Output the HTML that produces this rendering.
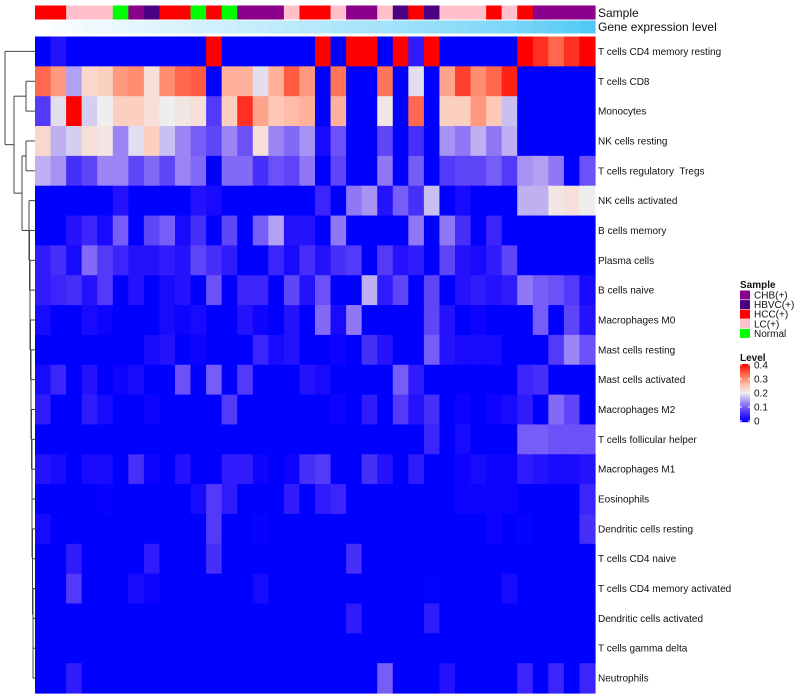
<!DOCTYPE html>
<html><head><meta charset="utf-8">
<style>
body{margin:0;background:#fff;}
svg{display:block;font-family:"Liberation Sans",sans-serif;}
#labels text{white-space:pre;}
</style></head>
<body>
<svg id="chart" width="800" height="700" viewBox="0 0 800 700" xmlns="http://www.w3.org/2000/svg">
<g id="dendro" stroke="#444" stroke-width="1" fill="none"></g>
<g id="annot"></g>
<g id="cells"></g>
<g id="labels" font-size="10" fill="#111"></g>
<text x="598" y="17" font-size="12" fill="#111">Sample</text>
<text x="598" y="31" font-size="12" fill="#111">Gene expression level</text>
<g id="legend"></g>
</svg>
<script>
const rowNames = ["T cells CD4 memory resting","T cells CD8","Monocytes","NK cells resting","T cells regulatory  Tregs","NK cells activated","B cells memory","Plasma cells","B cells naive","Macrophages M0","Mast cells resting","Mast cells activated","Macrophages M2","T cells follicular helper","Macrophages M1","Eosinophils","Dendritic cells resting","T cells CD4 naive","T cells CD4 memory activated","Dendritic cells activated","T cells gamma delta","Neutrophils"];
const sampleGroups = ["HCC(+)","HCC(+)","LC(+)","LC(+)","LC(+)","Normal","CHB(+)","HBVC(+)","HCC(+)","HCC(+)","Normal","HCC(+)","Normal","CHB(+)","CHB(+)","CHB(+)","LC(+)","HCC(+)","HCC(+)","LC(+)","CHB(+)","CHB(+)","LC(+)","HBVC(+)","HCC(+)","HBVC(+)","LC(+)","LC(+)","LC(+)","HCC(+)","LC(+)","HCC(+)","CHB(+)","CHB(+)","CHB(+)","CHB(+)"];
const geneLevel = [0,0.03,0.06,0.08,0.1,0.13,0.15,0.17,0.19,0.21,0.24,0.26,0.28,0.31,0.33,0.35,0.37,0.39,0.41,0.44,0.46,0.48,0.5,0.53,0.55,0.58,0.6,0.63,0.66,0.69,0.72,0.76,0.8,0.85,0.9,0.95];
const groupNames = ["CHB(+)","HBVC(+)","HCC(+)","LC(+)","Normal"];
const groupColors = ["#8B008B","#4B0082","#FF0000","#FFC0CB","#00FF00"];
const levelTicks = [0,0.1,0.2,0.3,0.4];
const r1 = [0,0.03,0,0,0,0,0,0,0,0,0,0.45,0,0,0,0,0,0,0.45,0,0.45,0.45,0,0.45,0.04,0.45,0,0,0,0,0,0.42,0.37,0.33,0.37,0.45];
const r2 = [0.33,0.29,0.15,0.23,0.24,0.29,0.3,0.22,0.3,0.33,0.34,0,0.27,0.27,0.19,0.27,0.34,0.29,0,0.32,0,0,0.32,0,0.19,0,0.28,0.36,0.3,0.33,0.38,0,0,0,0,0];
const r3 = [0.07,0.19,0.45,0.18,0.2,0.24,0.24,0.22,0.2,0.21,0.22,0.07,0.24,0.37,0.28,0.25,0.26,0.27,0,0.27,0,0,0.21,0,0.33,0,0.24,0.24,0.29,0.25,0.17,0,0,0,0,0];
const r4 = [0.23,0.16,0.18,0.22,0.21,0.13,0.19,0.24,0.17,0.13,0.1,0.08,0.13,0.09,0.22,0.13,0.11,0.14,0.02,0.09,0,0,0.08,0,0.06,0,0.14,0.12,0.16,0.12,0.16,0,0,0,0,0];
const r5 = [0.16,0.14,0.06,0.08,0.13,0.13,0.08,0.11,0.08,0.13,0.11,0,0.11,0.11,0.06,0.09,0.08,0.12,0,0.08,0,0,0.12,0,0.1,0,0.07,0.08,0.08,0.1,0.07,0.14,0.15,0.12,0,0.09];
const r6 = [0,0,0,0,0,0.03,0,0,0,0,0.03,0.02,0,0,0,0,0,0,0.05,0,0.12,0.14,0.03,0.1,0.06,0.17,0,0.02,0,0,0,0.16,0.16,0.21,0.22,0.2];
const r7 = [0,0,0.03,0.05,0.02,0.1,0,0.08,0.1,0.02,0.06,0,0.08,0,0.1,0.15,0.03,0.03,0,0.12,0,0,0,0,0.12,0,0.12,0.06,0,0.05,0,0,0,0,0,0];
const r8 = [0.04,0.06,0.02,0.11,0.07,0.05,0.03,0.03,0.04,0.03,0.08,0.06,0.04,0,0,0.05,0.02,0.06,0.03,0.06,0.07,0,0.07,0.03,0.04,0,0.08,0.03,0.02,0.04,0.08,0,0,0,0,0];
const r9 = [0.04,0.05,0.06,0.03,0.07,0,0.03,0,0.02,0.03,0,0.09,0,0.05,0.05,0,0.08,0.03,0.09,0,0,0.16,0.04,0.08,0,0.08,0,0.03,0.04,0.03,0.04,0.12,0.1,0.09,0.07,0.02];
const r10 = [0.02,0,0,0.02,0.01,0,0,0,0.02,0.01,0.02,0,0,0.03,0.01,0,0.03,0,0.11,0.02,0.12,0,0,0,0,0.08,0.03,0,0.01,0,0,0,0.1,0,0.08,0.03];
const r11 = [0,0,0,0,0,0,0,0.02,0.03,0,0.01,0,0,0,0.05,0.02,0.03,0,0,0.01,0,0.06,0.03,0,0,0.1,0.03,0.02,0.02,0.02,0,0,0,0.07,0.13,0.09];
const r12 = [0.02,0.05,0,0.03,0,0.01,0.02,0,0,0.09,0,0.1,0,0.07,0,0,0,0.03,0.02,0,0,0,0,0.1,0.04,0,0,0,0,0,0,0.05,0.06,0,0,0];
const r13 = [0.04,0,0,0.04,0.02,0,0,0.01,0,0,0,0,0.07,0,0,0,0,0,0,0.01,0,0.04,0,0.07,0.03,0.06,0,0.01,0,0.01,0.02,0.04,0,0.11,0.08,0];
const r14 = [0,0,0,0,0,0,0,0,0,0,0,0,0,0,0,0,0,0,0,0,0,0,0,0,0,0.05,0,0.02,0,0,0,0.1,0.1,0.09,0.09,0.09];
const r15 = [0.03,0.02,0,0.02,0.02,0,0.06,0.01,0,0.03,0,0,0.04,0.04,0.01,0,0.01,0.06,0.07,0,0,0.06,0.03,0,0.04,0,0,0.01,0.02,0.01,0.01,0.04,0.03,0.02,0.02,0.03];
const r16 = [0,0,0,0,0.005,0,0,0,0,0,0.02,0.07,0.04,0,0,0,0.04,0,0.04,0.05,0,0,0,0,0,0,0,0.01,0.01,0.01,0.01,0,0,0,0,0.05];
const r17 = [0.02,0,0,0,0,0,0,0,0,0,0,0.07,0,0,0.005,0,0,0,0,0,0,0,0,0,0,0,0,0,0,0.01,0,0.005,0,0,0,0.06];
const r18 = [0,0,0.04,0,0,0,0,0.04,0,0,0,0.06,0,0,0,0,0,0,0,0,0.06,0,0,0,0,0,0,0,0,0,0,0,0,0,0,0];
const r19 = [0,0,0.07,0,0,0,0.02,0.01,0,0,0,0,0,0,0.02,0,0,0,0,0,0,0,0,0,0,0.002,0,0,0,0,0.02,0,0,0,0,0];
const r20 = [0,0,0,0,0,0,0,0,0,0,0,0,0,0,0,0,0,0,0,0,0.04,0,0,0,0,0.04,0,0,0,0,0,0,0,0,0,0];
const r21 = [0,0,0,0,0,0,0,0,0,0,0,0,0,0,0,0,0,0,0,0,0,0,0,0,0,0,0,0,0,0,0,0,0,0,0,0];
const r22 = [0,0,0.04,0,0,0,0,0,0,0,0,0,0,0,0,0,0,0,0,0,0,0,0.1,0,0,0,0.03,0,0,0,0,0.05,0,0.05,0,0.05];
const values = [r1,r2,r3,r4,r5,r6,r7,r8,r9,r10,r11,r12,r13,r14,r15,r16,r17,r18,r19,r20,r21,r22];

const NS = "http://www.w3.org/2000/svg";
const X0 = 35, X1 = 595, Y0 = 36.5, Y1 = 693;
const nCol = sampleGroups.length, nRow = rowNames.length;
const cw = (X1 - X0) / nCol, rh = (Y1 - Y0) / nRow;
const xCol = i => X0 + i * cw;
const yRow = j => Y0 + j * rh;
function lerp(a, b, t){ return Math.round(a + (b - a) * t); }
const redStops = [[238,238,238],[255,200,182],[255,140,112],[255,80,55],[255,0,0]];
function colorOf(v){
  let t = Math.max(0, Math.min(0.4, v));
  if (t <= 0.2){
    const k = t / 0.2;
    return `rgb(${lerp(0,238,k)},${Math.round(238*Math.pow(k,1.35))},${lerp(255,238,k)})`;
  }
  const p = (t - 0.2) / 0.05, i = Math.min(3, Math.floor(p)), f = p - i;
  const a = redStops[i], b = redStops[i+1];
  return `rgb(${lerp(a[0],b[0],f)},${lerp(a[1],b[1],f)},${lerp(a[2],b[2],f)})`;
}
function mk(tag, attrs, parent){ const e = document.createElementNS(NS, tag); for (const k in attrs) e.setAttribute(k, attrs[k]); parent.appendChild(e); return e; }

const cells = document.getElementById('cells');
values.forEach((row, j) => {
  row.forEach((v, i) => {
    const r = mk('rect', {x: xCol(i), y: yRow(j), width: cw + 0.6, height: rh + 0.6, fill: colorOf(v)}, cells);
    
    
  });
});

const annot = document.getElementById('annot');
sampleGroups.forEach((g, i) => {
  const r = mk('rect', {x: xCol(i), y: 5.5, width: cw + 0.6, height: 14, fill: groupColors[groupNames.indexOf(g)]}, annot);
  
  
});
geneLevel.forEach((v, i) => {
  const c = `rgb(${lerp(255,72,v)},${lerp(255,198,v)},${lerp(255,245,v)})`;
  const r = mk('rect', {x: xCol(i), y: 20.5, width: cw + 0.6, height: 13, fill: c}, annot);
  
  
});

const labels = document.getElementById('labels');
rowNames.forEach((n, j) => {
  const t = mk('text', {x: 598, y: yRow(j) + rh / 2 + 3.5}, labels);
  t.textContent = n;
  
  
});

const dg = document.getElementById('dendro');
const cy = j => yRow(j) + rh / 2;
function seg(x1,y1,x2,y2){ const l = mk('line',{x1,y1,x2,y2},dg);   }
function node(x, ya, xa, yb, xb){ seg(x, ya, x, yb); seg(x, ya, xa, ya); seg(x, yb, xb, yb); return (ya + yb) / 2; }
let curY = node(33, cy(20), 35, cy(21), 35), curX = 33;
const stairX = [33,33,32.5,32.5,32,32,32,31.5,31,31,30.5,30,30,29.5,29,26];
for (let j = 19, k = 0; j >= 5; j--, k++){
  const nx = stairX[k];
  curY = node(nx, cy(j), 35, curY, curX);
  curX = nx;
}
const y23 = node(26, cy(1), 35, cy(2), 35);
const y45 = node(26, cy(3), 35, cy(4), 35);
const yA = node(22, y45, 26, curY, curX);
const yB = node(14, y23, 26, yA, 22);
node(5, cy(0), 35, yB, 14);

const lg = document.getElementById('legend');
const st = mk('text', {x: 740, y: 288, 'font-size': 10, 'font-weight': 'bold', fill: '#111'}, lg);
st.textContent = 'Sample';


groupNames.forEach((g, i) => {
  const y = 290.5 + i * 9.6;
  const r = mk('rect', {x: 740, y: y, width: 10, height: 9, fill: groupColors[i]}, lg);
  
  
  const t = mk('text', {x: 754, y: y + 8, 'font-size': 10, fill: '#111'}, lg);
  t.textContent = g;
  
  
});
const lt = mk('text', {x: 740, y: 361, 'font-size': 10, 'font-weight': 'bold', fill: '#111'}, lg);
lt.textContent = 'Level';


const CB0 = 364, CB1 = 422;
for (let s = 0; s < 58; s++){
  const v = 0.4 - 0.4 * s / 57;
  const r = mk('rect', {x: 740, y: CB0 + s, width: 10, height: 1.2, fill: colorOf(v)}, lg);
  
  
}
levelTicks.forEach(v => {
  const y = CB1 - (v / 0.4) * (CB1 - CB0 - 2) - 1;
  const t = mk('text', {x: 754, y: y + 3.5, 'font-size': 10, fill: '#111'}, lg);
  t.textContent = String(v);
  
  
  mk('line', {x1: 740, x2: 742, y1: y, y2: y, stroke: '#fff'}, lg);
  mk('line', {x1: 748, x2: 750, y1: y, y2: y, stroke: '#fff'}, lg);
});
</script>
</body></html>
